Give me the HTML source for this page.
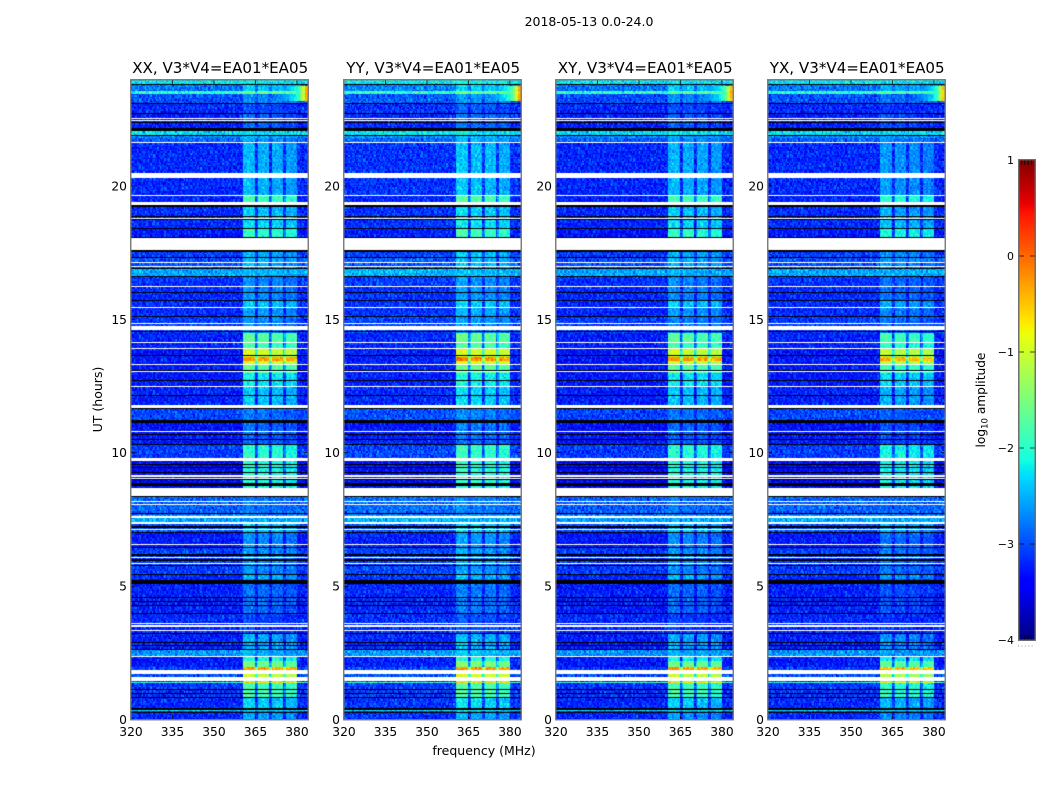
<!DOCTYPE html>
<html lang="en">
<head>
<meta charset="utf-8">
<title>2018-05-13 0.0-24.0</title>
<style>
html,body{margin:0;padding:0;background:#fff;}
#figure{position:relative;width:1050px;height:800px;overflow:hidden;background:#fff;font-family:"DejaVu Sans","Liberation Sans",sans-serif;}
#figure canvas{position:absolute;display:block;}
#overlay{position:absolute;left:0;top:0;}
#overlay text{font-family:"DejaVu Sans","Liberation Sans",sans-serif;fill:#000;}
</style>
</head>
<body>
<div id="figure">
<canvas id="panel-0" width="177" height="640" style="left:131px;top:80px"></canvas>
<canvas id="panel-1" width="177" height="640" style="left:344px;top:80px"></canvas>
<canvas id="panel-2" width="177" height="640" style="left:556px;top:80px"></canvas>
<canvas id="panel-3" width="177" height="640" style="left:768px;top:80px"></canvas>
<canvas id="colorbar" width="16" height="480" style="left:1019px;top:160px"></canvas>
<svg id="overlay" width="1050" height="800" xmlns="http://www.w3.org/2000/svg"></svg>
</div>
<script>
/* ---------- chart data ---------- */
const panelTitles = ["XX, V3*V4=EA01*EA05","YY, V3*V4=EA01*EA05","XY, V3*V4=EA01*EA05","YX, V3*V4=EA01*EA05"];
const panelBackgroundOffset = [0, 0.05, -0.02, 0];
const panelBandOffset = [0, 0.08, -0.02, -0.15];
const freqTicks = [320,335,350,365,380];
const hourTicks = [0,5,10,15,20];
const colorTicks = [1,0,-1,-2,-3,-4];

/* time segments (UT hours, lower edge) with log10 amplitude of the quiet background and of the 360-380 MHz band */
const segmentStart = [0,0.23,0.29,0.36,0.8,1.34,1.4,1.44,1.59,1.71,1.87,1.95,2.2,2.35,2.64,3.26,3.95,5.23,5.46,5.87,6.45,7.01,7.33,7.64,7.75,8.33,9.8,10.3,10.7,11.2,11.63,12.45,13.0,13.3,13.47,13.6,13.9,14.15,14.5,15.12,15.46,15.7,16.26,16.62,16.92,17.31,17.6,18.41,18.88,19.28,19.66,21.64,21.78,21.92,22.07,22.72,23.11,23.45,23.55,23.78];
const segmentBackground = [-3.2,-3.2,-2.3,-3.2,-3.15,-1.9,-3.1,-3.1,-3.0,-3.0,-3.1,-3.3,-3.3,-2.65,-3.25,-3.2,-3.25,-3.2,-3.1,-3.1,-3.3,-3.0,-2.55,-2.9,-2.9,-3.4,-3.1,-3.3,-3.35,-3.05,-3.25,-3.3,-3.3,-3.3,-3.3,-3.3,-3.25,-3.25,-3.1,-3.2,-3.2,-3.2,-3.15,-2.55,-3.0,-3.1,-3.3,-3.2,-3.2,-3.25,-3.2,-2.9,-2.7,-2.3,-3.25,-3.2,-3.0,-1.95,-2.8,-2.25];
const segmentBand = [-2.6,-2.7,-2.3,-2.35,-1.85,-0.6,-1.5,-1.3,-1.05,-1.1,-0.3,-1.55,-2.1,-2.5,-2.55,-3.05,-2.85,-2.5,-2.7,-2.65,-2.7,-2.4,-2.65,-2.8,-2.8,-2.05,-2.0,-2.9,-2.85,-2.8,-2.4,-2.2,-1.7,-1.0,-0.25,-1.0,-1.85,-1.7,-2.7,-2.6,-2.4,-2.7,-2.7,-2.5,-2.5,-2.5,-1.95,-2.3,-2.4,-1.85,-2.5,-2.6,-2.5,-2.3,-2.9,-3.0,-2.7,-1.6,-2.4,-2.25];

/* 0.5 MHz channels of the band, from 360.5 MHz: level relative to the segment band level */
const bandFirstMhz = 360.5;
const bandChannelOffset = [0.02,0.05,0.06,0.04,0.05,0.06,0.04,0.03,-0.05,-1.1,-0.7,-0.02,0.0,-0.03,0.0,-0.02,-0.03,0.0,-0.06,-1.1,-0.7,-0.05,-0.04,-0.06,-0.03,-0.05,-0.06,-0.04,-0.09,-1.1,-0.75,-0.12,-0.1,-0.12,-0.14,-0.1,-0.12,-0.13,-0.18];

/* hot corner at the end of the day: level per 1 MHz above 374 MHz, applied over these hours */
const hotStartHour = 23.2;
const hotEndHour = 23.75;
const hotFirstMhz = 374;
const hotLevels = [-2.7,-2.6,-2.5,-2.4,-2.3,-2.15,-1.9,-1.5,-1.1,-0.4];

/* flagged time ranges in UT hours */
const whiteGapStart = [22.50,22.42,21.61,20.30,19.62,19.28,18.76,17.60,17.11,16.96,16.22,15.42,14.82,14.61,14.11,13.89,13.29,13.02,12.45,11.66,10.76,9.74,9.69,9.10,9.05,8.38,8.16,8.04,7.56,7.33,7.09,6.54,6.06,5.83,3.58,3.48,3.32,2.35,1.71,1.44];
const whiteGapEnd = [22.54,22.46,21.64,20.48,19.66,19.40,18.80,18.04,17.15,17.00,16.26,15.46,14.85,14.76,14.15,13.92,13.32,13.06,12.49,11.80,10.80,9.79,9.71,9.15,9.07,8.67,8.19,8.07,7.64,7.40,7.13,6.58,6.10,5.87,3.63,3.53,3.37,2.38,1.87,1.59];
const blackGapStart = [23.78,23.07,22.69,22.36,22.07,21.90,19.22,18.83,18.71,18.37,18.04,17.53,17.31,16.92,16.59,16.00,15.70,15.09,14.52,13.62,13.06,12.71,12.14,11.63,11.21,11.12,10.68,10.49,10.29,9.71,9.56,9.41,9.25,8.98,8.83,8.74,8.33,7.70,7.25,7.18,7.01,6.42,6.13,5.94,5.75,5.40,5.08,4.55,4.40,4.24,3.94,3.24,2.89,2.77,2.62,1.14,0.99,0.82,0.36,0.23];
const blackGapEnd = [23.82,23.11,22.72,22.39,22.17,21.92,19.28,18.88,18.75,18.41,18.10,17.60,17.33,16.94,16.62,16.03,15.73,15.12,14.56,13.66,13.10,12.74,12.16,11.66,11.22,11.17,10.70,10.52,10.33,9.74,9.59,9.45,9.28,9.00,8.85,8.83,8.38,7.75,7.27,7.20,7.04,6.45,6.19,6.00,5.79,5.46,5.23,4.60,4.44,4.29,4.00,3.26,2.92,2.79,2.64,1.16,1.01,0.84,0.42,0.29];

/* visual grain added on top of the levels above (hand-set texture, log10 units) */
const grain = [0.12,-0.18,0.04,0.26,-0.09,-0.31,0.15,0.02,-0.22,0.33,-0.05,0.19,-0.27,0.08,-0.14,0.29,-0.35,0.06,0.21,-0.11,0.01,-0.24,0.31,0.1,-0.17,-0.03,0.24,-0.29,0.14,0.05,-0.2,0.36,-0.12,-0.38,0.17,0.07,-0.06,0.27,-0.25,0.11,-0.15,0.22,0.0,-0.33,0.18,-0.08,0.3,0.03,-0.21,0.13,-0.28,0.09,0.25,-0.13,-0.02,0.2,-0.36,0.16,-0.07,0.28,-0.19,0.06,0.34,-0.26,-0.1,0.23,0.04,-0.16,0.12,-0.32,0.19,-0.04,0.26,-0.23,0.08,-0.12,0.35,-0.3,0.02,0.15,-0.18,0.29,-0.06,-0.27,0.1,0.21,-0.14,0.05,-0.34,0.24,-0.09,0.17,-0.01,-0.22,0.32,0.07,-0.11,-0.37,0.27,0.13,-0.2,0.03,0.18,-0.25,0.09,-0.07,0.3,-0.15,0.22,-0.29,0.11,0.01,-0.17,0.25,-0.05,-0.33,0.14,0.28,-0.1,0.06,-0.24,0.2,-0.13,0.33,-0.03,-0.21,0.16,-0.28];

/* ---------- layout and scales ---------- */
const panelLefts = [131,344,556,768];
const panelWidth = 177, axisBottom = 719.5, axisTop = 80, pxPerHour = 26.68;
const mhzMin = 320, mhzMax = 384;
const barTop = 160, barBottom = 640, barLeft = 1019, barRight = 1035;
const colorMin = -4, colorMax = 1;
function xScale(mhz, left){ return left + (mhz - mhzMin) * panelWidth / (mhzMax - mhzMin); }
function yScale(hour){ return axisBottom - hour * pxPerHour; }
function barScale(v){ return barBottom - (v - colorMin) * (barBottom - barTop) / (colorMax - colorMin); }
function ramp(x, pts){
  for (let i = 1; i < pts.length; i++) if (x <= pts[i][0]) {
    const a = pts[i-1], b = pts[i];
    return a[1] + (b[1]-a[1]) * (x-a[0]) / (b[0]-a[0]);
  }
  return pts[pts.length-1][1];
}
function jet(v){
  const x = Math.min(1, Math.max(0, (v - colorMin) / (colorMax - colorMin)));
  const r = ramp(x, [[0,0],[0.35,0],[0.66,1],[0.89,1],[1,0.5]]);
  const g = ramp(x, [[0,0],[0.125,0],[0.375,1],[0.64,1],[0.91,0],[1,0]]);
  const b = ramp(x, [[0,0.5],[0.11,1],[0.34,1],[0.65,0],[1,0]]);
  return "rgb(" + Math.round(r*255) + "," + Math.round(g*255) + "," + Math.round(b*255) + ")";
}
function segmentAt(hour){
  let s = 0;
  for (let i = 0; i < segmentStart.length; i++) if (segmentStart[i] <= hour) s = i;
  return s;
}
function cellValue(p, hour, mhz, seg, g){
  let v = segmentBackground[seg] + panelBackgroundOffset[p] + g;
  const b = Math.floor((mhz - bandFirstMhz) / 0.5 + 1e-6);
  if (b >= 0 && b < bandChannelOffset.length) {
    v = Math.max(v, segmentBand[seg] + panelBandOffset[p] + bandChannelOffset[b] + g * 0.7);
  }
  if (hour >= hotStartHour && hour < hotEndHour && mhz >= hotFirstMhz) {
    const h = Math.floor(mhz - hotFirstMhz);
    if (h < hotLevels.length) v = Math.max(v, hotLevels[h] + panelBandOffset[p] + g * 0.4);
  }
  return v;
}

/* ---------- heatmaps ---------- */
const rowStep = 0.05, channelStep = 0.5;
panelLefts.forEach(function(left, p){
  const ctx = document.getElementById("panel-" + p).getContext("2d");
  ctx.translate(-left, -axisTop);
  for (let r = 0; r * rowStep < 24; r++) {
    const hour = (r + 0.5) * rowStep;
    const seg = segmentAt(hour);
    const y0 = Math.round(yScale((r + 1) * rowStep));
    const y1 = Math.round(yScale(r * rowStep));
    for (let c = 0; c * channelStep < mhzMax - mhzMin; c++) {
      const mhz = mhzMin + c * channelStep;
      const g = 0.8 * (grain[(c + r * 29 + p * 17) % grain.length] + grain[(c * 5 + r * 53 + p * 41) % grain.length]);
      const x0 = Math.round(xScale(mhz, left));
      const x1 = Math.round(xScale(mhz + channelStep, left));
      ctx.fillStyle = jet(cellValue(p, hour, mhz, seg, g));
      ctx.fillRect(x0, y0, x1 - x0, y1 - y0);
    }
  }
  function drawGaps(starts, ends, color){
    ctx.fillStyle = color;
    starts.forEach(function(s, i){
      const top = Math.round(yScale(ends[i]));
      const h = Math.max(1, Math.round(yScale(s)) - top);
      ctx.fillRect(left, top, panelWidth, h);
    });
  }
  drawGaps(blackGapStart, blackGapEnd, "#000");
  drawGaps(whiteGapStart, whiteGapEnd, "#fff");
});

/* ---------- colorbar ---------- */
(function(){
  const ctx = document.getElementById("colorbar").getContext("2d");
  for (let y = 0; y < barBottom - barTop; y++) {
    const v = colorMax - (y + 0.5) * (colorMax - colorMin) / (barBottom - barTop);
    ctx.fillStyle = jet(v);
    ctx.fillRect(0, y, barRight - barLeft, 1);
  }
})();

/* ---------- annotations ---------- */
const svgNS = "http://www.w3.org/2000/svg";
const overlay = document.getElementById("overlay");
function addText(name, str, x, y, size, anchor, rotate){
  const el = document.createElementNS(svgNS, "text");
  
  
  el.setAttribute("x", x);
  el.setAttribute("y", y);
  el.setAttribute("font-size", size);
  el.setAttribute("text-anchor", anchor);
  if (rotate) el.setAttribute("transform", "rotate(-90 " + x + " " + y + ")");
  el.textContent = str;
  overlay.appendChild(el);
  return el;
}
function addLine(name, x1, y1, x2, y2, color, width, dash){
  const el = document.createElementNS(svgNS, "line");
  
  
  el.setAttribute("x1", x1);
  el.setAttribute("y1", y1);
  el.setAttribute("x2", x2);
  el.setAttribute("y2", y2);
  el.setAttribute("stroke", color);
  el.setAttribute("stroke-width", width);
  if (dash) el.setAttribute("stroke-dasharray", dash);
  overlay.appendChild(el);
}
function addFrame(name, x, y, w, h, color, width){
  const el = document.createElementNS(svgNS, "rect");
  
  
  el.setAttribute("x", x);
  el.setAttribute("y", y);
  el.setAttribute("width", w);
  el.setAttribute("height", h);
  el.setAttribute("fill", "none");
  el.setAttribute("stroke", color);
  el.setAttribute("stroke-width", width);
  overlay.appendChild(el);
}

addText("figure-title", "2018-05-13 0.0-24.0", 589, 26, 12.5, "middle");
addText("x-axis-title", "frequency (MHz)", 484, 755, 12.5, "middle");
addText("y-axis-title", "UT (hours)", 102, 399.5, 12.5, "middle", true);

panelLefts.forEach(function(left, p){
  addText("panel-title", panelTitles[p], left + panelWidth / 2 + 0.7, 73, 15.1, "middle");
  freqTicks.forEach(function(f){
    const x = xScale(f, left);
    addLine("x-tick-top", x, axisTop, x, axisTop + 4, "#000", 0.7);
    addLine("x-tick-bottom", x, axisBottom, x, axisBottom - 4, "#000", 0.7);
    addText("x-tick-label", String(f), x, 736, 12.3, "middle");
  });
  hourTicks.forEach(function(h){
    const y = yScale(h);
    addLine("y-tick-left", left, y, left + 4, y, "#000", 0.7);
    addLine("y-tick-right", left + panelWidth, y, left + panelWidth - 4, y, "#000", 0.7);
    addText("y-tick-label", String(h), left - 4, y + 4.5, 12.3, "end");
  });
  addFrame("panel-frame", left - 0.25, axisTop - 0.25, panelWidth + 0.5, axisBottom - axisTop + 0.5, "#777", 1.4);
});

colorTicks.forEach(function(v){
  const y = barScale(v);
  addLine("colorbar-tick-left", barLeft, y, barLeft + 5, y, "#000", 0.7);
  addLine("colorbar-tick-right", barRight, y, barRight - 5, y, "#000", 0.7);
  addText("colorbar-tick-label", String(v).replace("-", "\u2212"), barLeft - 5, y + 4, 11, "end");
});
addLine("colorbar-minor-ticks-top", barLeft + 2, barTop + 2.5, barRight - 2, barTop + 2.5, "#000", 5, "0.8 2.6");
addLine("colorbar-minor-ticks-bottom", barLeft + 2, barBottom - 2.5, barRight - 2, barBottom - 2.5, "#000", 5, "0.8 2.6");
addFrame("colorbar-frame", barLeft - 0.25, barTop - 0.25, barRight - barLeft + 0.5, barBottom - barTop + 0.5, "#666", 1.4);
addLine("colorbar-offset-dots", barLeft - 1, 646, barRight, 646, "#999", 1, "1 2.4");

const cbLabel = addText("colorbar-title", "log", 985, 400, 12.2, "middle", true);
const cbSub = document.createElementNS(svgNS, "tspan");


cbSub.setAttribute("font-size", "8.5");
cbSub.setAttribute("dy", "2.5");
cbSub.textContent = "10";
cbLabel.appendChild(cbSub);
const cbRest = document.createElementNS(svgNS, "tspan");


cbRest.setAttribute("dy", "-2.5");
cbRest.textContent = " amplitude";
cbLabel.appendChild(cbRest);
</script>
</body>
</html>
